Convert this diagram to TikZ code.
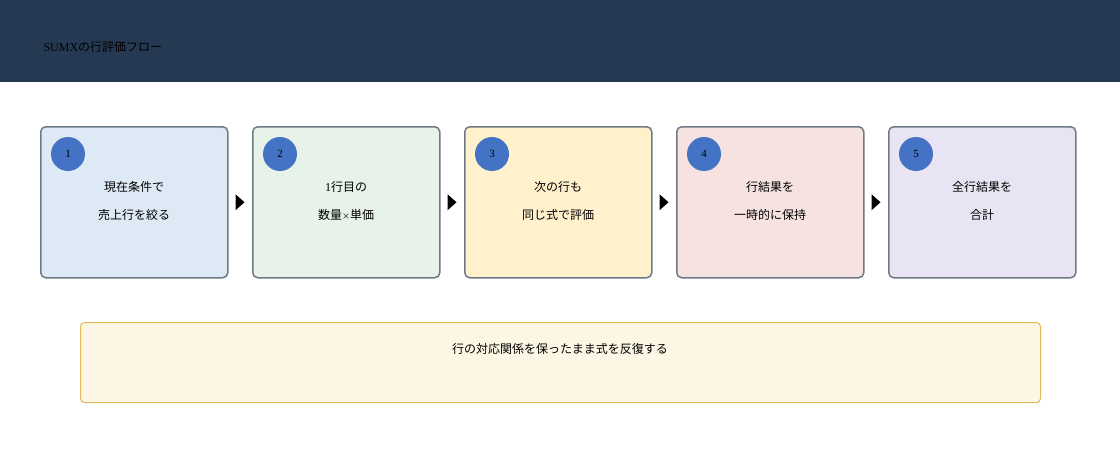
\documentclass[tikz,border=0pt]{standalone}
\usepackage{fontspec}
\usetikzlibrary{calc}
\setmainfont{Liberation Serif}
\newfontfamily\cjk{Noto Sans CJK JP}
\definecolor{hdr}{HTML}{253A52}
\definecolor{bord}{HTML}{6F7A88}
\definecolor{circ}{HTML}{4472C4}
\definecolor{fa}{HTML}{DDE9F5}
\definecolor{fb}{HTML}{E7F2E8}
\definecolor{fc}{HTML}{FFF1CC}
\definecolor{fd}{HTML}{F6E2E1}
\definecolor{fe}{HTML}{E8E4F3}
\definecolor{nf}{HTML}{FDF6E4}
\definecolor{nb}{HTML}{E0BB55}
\begin{document}
\begin{tikzpicture}[x=1pt,y=-1pt,
 stepbox/.style={draw=bord,line width=1.5pt,rounded corners=5pt,minimum width=187pt,minimum height=151pt,anchor=north west,inner sep=0pt},
 num/.style={circle,fill=circ,minimum size=34pt,inner sep=0pt,font=\fontsize{11}{13}\selectfont},
 lbl/.style={align=center,font=\fontsize{12}{28}\selectfont\cjk},
 arr/.style={fill=black}]
\useasboundingbox (0,0) rectangle (1120,460);
\fill[hdr] (0,0) rectangle (1120,82);
\node[anchor=west,font=\fontsize{12}{14}\selectfont] (title) at (40,47) {SUMX{\cjk の行評価フロー}};
\foreach \i/\c/\l in {0/fa/{現在条件で\\売上行を絞る},1/fb/{{\rmfamily 1}行目の\\数量{\footnotesize ×}単価},2/fc/{次の行も\\同じ式で評価},3/fd/{行結果を\\一時的に保持},4/fe/{全行結果を\\合計}}{
  \node[stepbox,fill=\c] (b\i) at ({40+212*\i},126) {};
  \node[num] (n\i) at ({68+212*\i},154) {\the\numexpr\i+1\relax};
  \node[lbl] (t\i) at ({134+212*\i},201) {\l};
}
\foreach \i in {0,...,3}{
  \fill[arr] ($(b\i.east)+(7,-8)$) -- ++(9,8) -- ++(-9,8) -- cycle;
}
\node[draw=nb,fill=nf,line width=1pt,rounded corners=4pt,minimum width=960pt,minimum height=80pt,anchor=north west] (note) at (80,322) {};
\node[font=\fontsize{12}{14}\selectfont\cjk] (nt) at (560,349) {行の対応関係を保ったまま式を反復する};
\end{tikzpicture}
\end{document}
